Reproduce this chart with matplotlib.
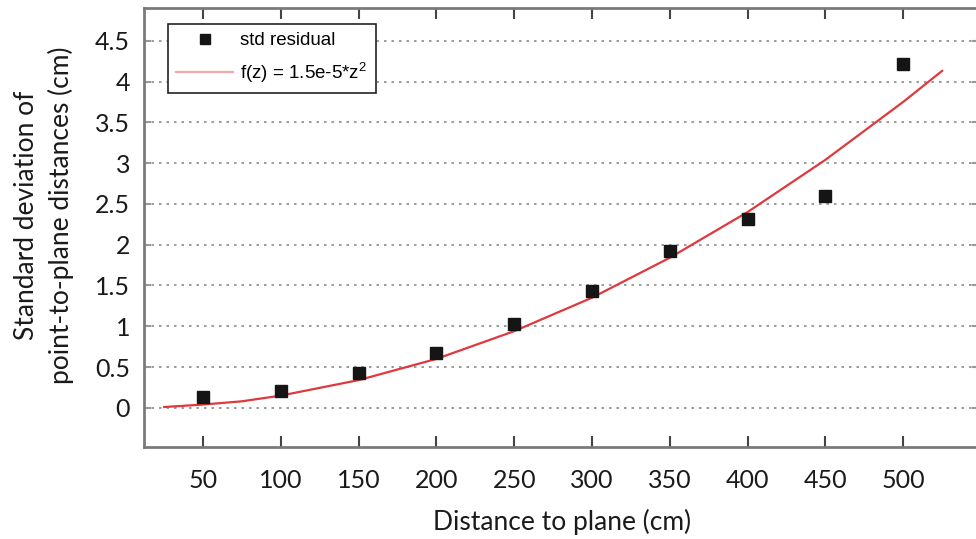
import matplotlib
matplotlib.use("Agg")
import matplotlib.pyplot as plt

# Puntos medidos (desviación estándar del residuo)
dist = [50, 100, 150, 200, 250, 300, 350, 400, 450, 500]
std_res = [0.13, 0.21, 0.43, 0.67, 1.03, 1.43, 1.92, 2.32, 2.60, 4.22]

# Curva ajustada
fit_z = [25, 50, 75, 100, 150, 200, 250, 300, 350, 400, 450, 500, 525]
fit_val = [0.01, 0.04, 0.08, 0.15, 0.34, 0.60, 0.94, 1.35, 1.84, 2.40, 3.04, 3.75, 4.13]

yticks = [0, 0.5, 1, 1.5, 2, 2.5, 3, 3.5, 4, 4.5]
ytick_labels = ["0", "0.5", "1", "1.5", "2", "2.5", "3", "3.5", "4", "4.5"]

plt.rcParams['mathtext.default'] = 'regular'

fig = plt.figure(figsize=(9.76, 5.39), dpi=100)
ax = fig.add_axes([0.1475, 0.1707, 0.856, 0.8143])

ax.plot(fit_z, fit_val, color='#e0383c', lw=1.6, zorder=2,
        label='f(z) = 1.5e-5*z$^2$')
ax.plot(dist, std_res, 's', color='#151515', ms=8.5, zorder=3,
        label='std residual')

ax.set_xlim(12, 549)
ax.set_ylim(-0.48, 4.9)
ax.set_xticks(dist)
ax.set_yticks(yticks)
ax.set_yticklabels(ytick_labels)

# Rejilla punteada solo horizontal
ax.grid(axis='y', color='#8a8a8a', lw=1.2, ls=(0, (1.5, 3)))
ax.set_axisbelow(True)

for s in ax.spines.values():
    s.set_color('#7a7a7a')
    s.set_linewidth(2)

ax.tick_params(axis='x', direction='in', length=8, width=1.5, color='#444444',
               top=True, pad=16, labelsize=18)
ax.tick_params(axis='y', direction='in', length=5, width=1.5, color='#999999',
               right=True, pad=10, labelsize=18)
for lab in ax.get_xticklabels() + ax.get_yticklabels():
    lab.set_fontfamily('Lato')
    lab.set_color('#1a1a1a')

ax.set_xlabel('Distance to plane (cm)', fontsize=19, family='Lato',
              color='#1a1a1a', labelpad=12)
fig.text(0.045, 0.6, 'Standard deviation of\npoint-to-plane distances (cm)',
         rotation=90, ha='center', va='center', fontsize=19, family='Lato',
         color='#1a1a1a', linespacing=1.45)

handles, labels = ax.get_legend_handles_labels()
leg = ax.legend(handles[::-1], labels[::-1], loc='upper left',
                bbox_to_anchor=(0.0176, 0.986),
                prop={'family': 'Liberation Sans', 'size': 13.5},
                fancybox=False, edgecolor='#222222', framealpha=1,
                handlelength=3.0, labelspacing=0.6, borderpad=0.45,
                handletextpad=0.4, markerscale=0.9)
leg.get_frame().set_linewidth(1.2)
leg.get_lines()[1].set_color('#f0a8a8')

fig.savefig('out.png', dpi=100)
